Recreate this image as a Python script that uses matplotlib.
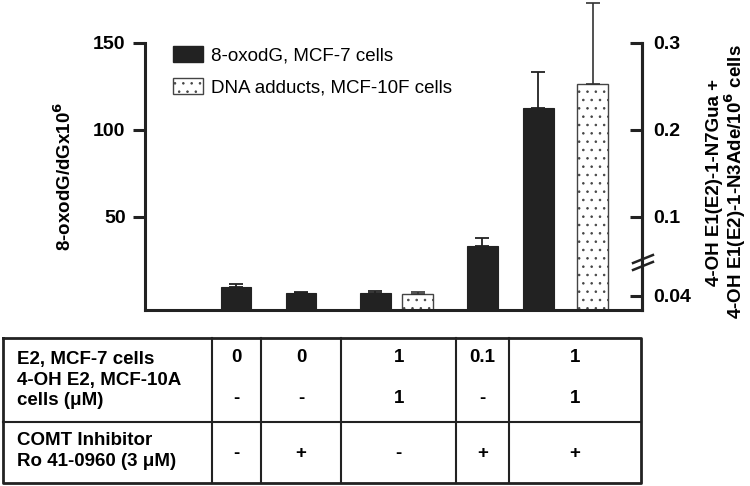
import matplotlib
matplotlib.use("Agg")
import matplotlib.pyplot as plt
from matplotlib.patches import Patch
import numpy as np

plt.rcParams['font.family'] = ['Liberation Sans', 'DejaVu Sans']
plt.rcParams['hatch.linewidth'] = 0.6

# 8-oxodG in MCF-7 cells (left axis)
oxodg_pos = [1.83, 3.14, 4.63, 6.79, 7.91]
oxodg = [9.8, 6.3, 6.3, 33.5, 112.8]
oxodg_err = [1.9, 0.6, 1.2, 4.4, 20.7]

# DNA adducts in MCF-10F cells (right axis, broken)
adduct_pos = [5.49, 9.01]
adducts = [0.0413, 0.253]
adduct_err = [0.0015, 0.093]

left_ticks = [50, 100, 150]
right_ticks = [0.04, 0.1, 0.2, 0.3]
right_tick_labels = ['0.04', '0.1', '0.2', '0.3']

# treatment table
row_labels = ["E2, MCF-7 cells\n4-OH E2, MCF-10A\ncells (\u03bcM)",
              "COMT Inhibitor\nRo 41-0960 (3 \u03bcM)"]
e2_conc = ['0', '0', '1', '0.1', '1']
oh_e2_conc = ['-', '-', '1', '-', '1']
comt = ['-', '+', '-', '+', '+']


def right_to_left(v):
    # broken right axis: 0.04 sits just above the baseline, linear above 0.1
    return np.interp(v, [0.04, 0.1, 0.5], [4.6, 50, 250])


W, H = 750, 486
fig = plt.figure(figsize=(7.5, 4.86), dpi=100)

ymin = -3.45
ax = fig.add_axes([145 / W, 1 - 310 / H, (642 - 145) / W, (310 - 43) / H])
ax.set_xlim(0, 10)
ax.set_ylim(ymin, 150)

dark = '#222222'
ax.bar(oxodg_pos, np.array(oxodg) - ymin, bottom=ymin, width=0.62,
       color=dark, edgecolor=dark, linewidth=0.8)
eb1 = ax.errorbar(oxodg_pos, oxodg, yerr=[np.zeros(len(oxodg)), oxodg_err],
                  fmt='none', ecolor=dark, elinewidth=1.3, capsize=5,
                  capthick=1.3)

ad_h = right_to_left(np.array(adducts))
ad_top = right_to_left(np.array(adducts) + np.array(adduct_err))
ax.bar(adduct_pos, ad_h - ymin, bottom=ymin, width=0.62, color='white',
       edgecolor='#444444', linewidth=1.0, hatch='..')
eb2 = ax.errorbar(adduct_pos, ad_h, yerr=[np.zeros(len(ad_h)), ad_top - ad_h],
                  fmt='none', ecolor='#333333', elinewidth=1.2, capsize=5,
                  capthick=1.2)
for eb in [eb1, eb2]:
    for art in list(eb.lines[1]) + list(eb.lines[2]):
        art.set_clip_on(False)

for s in ['left', 'right', 'bottom']:
    ax.spines[s].set_linewidth(2.2)
    ax.spines[s].set_color(dark)
ax.spines['top'].set_visible(False)
ax.set_xticks([])
ax.set_yticks(left_ticks)
ax.set_yticklabels([str(t) for t in left_ticks], fontsize=14, fontweight='bold')
ax.tick_params(axis='y', direction='out', length=9, width=2.2, pad=5, color=dark)

ax2 = ax.twinx()
ax2.set_ylim(ymin, 150)
ax2.set_yticks(right_to_left(np.array(right_ticks)))
ax2.set_yticklabels(right_tick_labels, fontsize=14, fontweight='bold')
ax2.tick_params(axis='y', direction='in', length=9, width=2.2, pad=8, color=dark)
for s in ['left', 'top', 'bottom']:
    ax2.spines[s].set_visible(False)
ax2.spines['right'].set_linewidth(2.2)
ax2.spines['right'].set_color(dark)

# axis break marks
for yc in [0.191, 0.165]:
    ax.plot([0.982, 1.022], [yc - 0.015, yc + 0.015], transform=ax.transAxes,
            color=dark, lw=1.8, clip_on=False, zorder=5)

fig.text(64 / W, 1 - 176 / H, "8-oxodG/dGx10$^\\mathbf{6}$", rotation=90,
         ha='center', va='center', fontsize=13.5, fontweight='bold')
fig.text(727 / W, 1 - 182 / H,
         "4-OH E1(E2)-1-N7Gua +\n4-OH E1(E2)-1-N3Ade/10$^\\mathbf{6}$ cells",
         rotation=90, ha='center', va='center', fontsize=13.5,
         fontweight='bold', linespacing=1.0)

handles = [Patch(facecolor=dark, edgecolor=dark),
           Patch(facecolor='white', edgecolor='#444444', hatch='..')]
ax.legend(handles, ["8-oxodG, MCF-7 cells", "DNA adducts, MCF-10F cells"],
          loc='upper left', bbox_to_anchor=(173 / W, 1 - 46 / H),
          bbox_transform=fig.transFigure, frameon=False, fontsize=13.5,
          handlelength=1.6, handleheight=0.9, handletextpad=0.45,
          labelspacing=0.75, borderpad=0, borderaxespad=0)

# treatment table below the chart
tb = fig.add_axes([0, 0, 1, 1])
tb.set_xlim(0, W)
tb.set_ylim(H, 0)
tb.axis('off')
x_edges = [3.3, 211.7, 261, 341.3, 456, 509.3, 641]
y_top, y_mid, y_bot = 338.3, 422.3, 483.3
tb.plot([x_edges[0], x_edges[-1], x_edges[-1], x_edges[0], x_edges[0]],
        [y_top, y_top, y_bot, y_bot, y_top], color=dark, lw=2.0)
tb.plot([x_edges[0], x_edges[-1]], [y_mid, y_mid], color=dark, lw=1.5)
for xe in x_edges[1:-1]:
    tb.plot([xe, xe], [y_top, y_bot], color=dark, lw=1.5)

tfs = 13.5
tb.text(17, 380, row_labels[0], ha='left', va='center', fontsize=tfs,
        fontweight='bold', linespacing=1.25)
tb.text(17, 451, row_labels[1], ha='left', va='center', fontsize=tfs,
        fontweight='bold', linespacing=1.25)
for i in range(len(e2_conc)):
    xc = (x_edges[i + 1] + x_edges[i + 2]) / 2
    tb.text(xc, 357, e2_conc[i], ha='center', va='center', fontsize=tfs,
            fontweight='bold')
    tb.text(xc, 398, oh_e2_conc[i], ha='center', va='center', fontsize=tfs,
            fontweight='bold')
    tb.text(xc, 453, comt[i], ha='center', va='center', fontsize=tfs,
            fontweight='bold')

fig.savefig("out.png", dpi=100)
